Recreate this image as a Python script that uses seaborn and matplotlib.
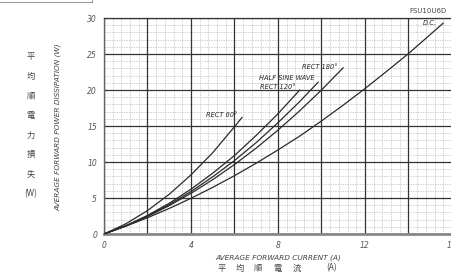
import numpy as np
import pandas as pd
import matplotlib
matplotlib.use("Agg")
import matplotlib.pyplot as plt
import seaborn as sns
from matplotlib.ticker import FixedLocator

# curves (current A, power W)
dc_i = [0, 1, 2, 3, 4, 5, 6, 7, 8, 9, 10, 11, 12, 13, 14, 15, 15.6]
dc_p = [0, 1.08, 2.26, 3.55, 4.96, 6.48, 8.1, 9.84, 11.68, 13.6, 15.7, 17.9, 20.2, 22.6, 25.06, 27.7, 29.3]

r180_i = [0, 1, 2, 3, 4, 5, 6, 7, 8, 9, 10, 11]
r180_p = [0, 1.12, 2.43, 3.94, 5.65, 7.55, 9.65, 11.94, 14.43, 17.12, 20.0, 23.1]

hsine_i = [0, 1, 2, 3, 4, 5, 6, 7, 8, 9, 9.85]
hsine_p = [0, 1.13, 2.5, 4.09, 5.9, 7.95, 10.2, 12.7, 15.46, 18.4, 21.1]

r120_i = [0, 1, 2, 3, 4, 5, 6, 7, 8, 9]
r120_p = [0, 1.15, 2.58, 4.27, 6.22, 8.45, 10.9, 13.7, 16.7, 20.0]

r60_i = [0, 1, 2, 3, 4, 5, 6, 6.35]
r60_p = [0, 1.41, 3.25, 5.52, 8.21, 11.3, 14.9, 16.2]

x_ticks = [0, 4, 8, 12, 16]
y_ticks = [0, 5, 10, 15, 20, 25, 30]

sns.set_style("white")
plt.rcParams['font.family'] = ['DejaVu Sans', 'Noto Sans CJK JP']
jp = ['Noto Sans CJK JP', 'DejaVu Sans']
ink = '#2a2a2a'
grey = '#555555'

fig = plt.figure(figsize=(4.52, 2.77), dpi=100)
ax = fig.add_axes([104 / 452, 43 / 277, 348 / 452, 216 / 277])

curves = [(dc_i, dc_p), (r180_i, r180_p), (hsine_i, hsine_p), (r120_i, r120_p), (r60_i, r60_p)]
for xs, ys in curves:
    sns.lineplot(x=xs, y=ys, ax=ax, color=ink, linewidth=0.9, sort=False, zorder=3)

ax.set_xlim(0, 16)
ax.set_ylim(0, 30)
ax.set_xticks(x_ticks)
ax.set_xticklabels([str(t) for t in x_ticks], fontsize=5.5, style='italic', color=grey)
ax.set_yticks(y_ticks)
ax.set_yticklabels([str(t) for t in y_ticks], fontsize=5.5, style='italic', color=grey)
ax.tick_params(which='both', length=0, pad=5)
ax.set_xlabel('')
ax.set_ylabel('')

# graph paper grid: dashed every 0.4 A / 1 W, heavy every 2 A / 5 W
x_minor = [k * 0.4 for k in range(41) if k % 5]
y_minor = [k for k in range(31) if k % 5]
ax.xaxis.set_minor_locator(FixedLocator(x_minor))
ax.yaxis.set_minor_locator(FixedLocator(y_minor))
ax.grid(False)
ax.grid(True, which='minor', color='#bdbdbd', linestyle=(0, (2, 1.5)), linewidth=0.5)
ax.set_axisbelow(True)
for gx in range(0, 17, 2):
    ax.axvline(gx, color='#333333', linewidth=0.9, zorder=1)
for gy in range(0, 31, 5):
    ax.axhline(gy, color='#333333', linewidth=0.9, zorder=1)

ax.spines['right'].set_visible(False)
ax.spines['bottom'].set_color('#888888')
ax.spines['bottom'].set_linewidth(2.0)
ax.spines['bottom'].set_zorder(2)
ax.spines['left'].set_color('#666666')
ax.spines['left'].set_linewidth(1.0)
ax.spines['top'].set_color('#333333')
ax.spines['top'].set_linewidth(0.9)

lab = dict(fontsize=4.8, style='italic', color=ink, ha='center', va='center')
ax.text(15.0, 29.3, 'D.C.', **lab)
ax.text(9.93, 23.2, 'RECT 180°', **lab)
ax.text(8.41, 21.7, 'HALF SINE WAVE', **lab)
ax.text(8.0, 20.4, 'RECT 120°', **lab)
ax.text(5.43, 16.5, 'RECT 60°', **lab)

fig.text(447 / 452, 1 - 11 / 277, 'FSU10U6D', fontsize=5, color='#444444', ha='right', va='center')

# axis titles
fig.text(58 / 452, 1 - 127 / 277, 'AVERAGE FORWARD POWER DISSIPATION (W)', rotation=90,
         fontsize=5.3, style='italic', color='#444444', ha='center', va='center')
fig.text(278 / 452, 1 - 258 / 277, 'AVERAGE FORWARD CURRENT (A)',
         fontsize=5.3, style='italic', color='#444444', ha='center', va='center')

x_jp_chars = ['平', '均', '順', '電', '流', '(A)']
x_jp_pos = [222, 240, 258, 278, 297, 332]
for ch, px in zip(x_jp_chars, x_jp_pos):
    fig.text(px / 452, 1 - 268 / 277, ch, family=jp,
             fontsize=6, color='#444444', ha='center', va='center')

jp_chars = ['平', '均', '順', '電', '力', '損', '失', '(W)']
for k, ch in enumerate(jp_chars):
    fig.text(31 / 452, 1 - (57 + 19.5 * k) / 277, ch, family=jp,
             fontsize=6, color='#444444', ha='center', va='center')

# remnant box edge at the top left of the scan
fig.add_artist(plt.Line2D([0, 92 / 452, 92 / 452], [1 - 2 / 277, 1 - 2 / 277, 1.0],
                          transform=fig.transFigure, color='#999999', linewidth=0.8))

fig.savefig('out.png', dpi=100)
